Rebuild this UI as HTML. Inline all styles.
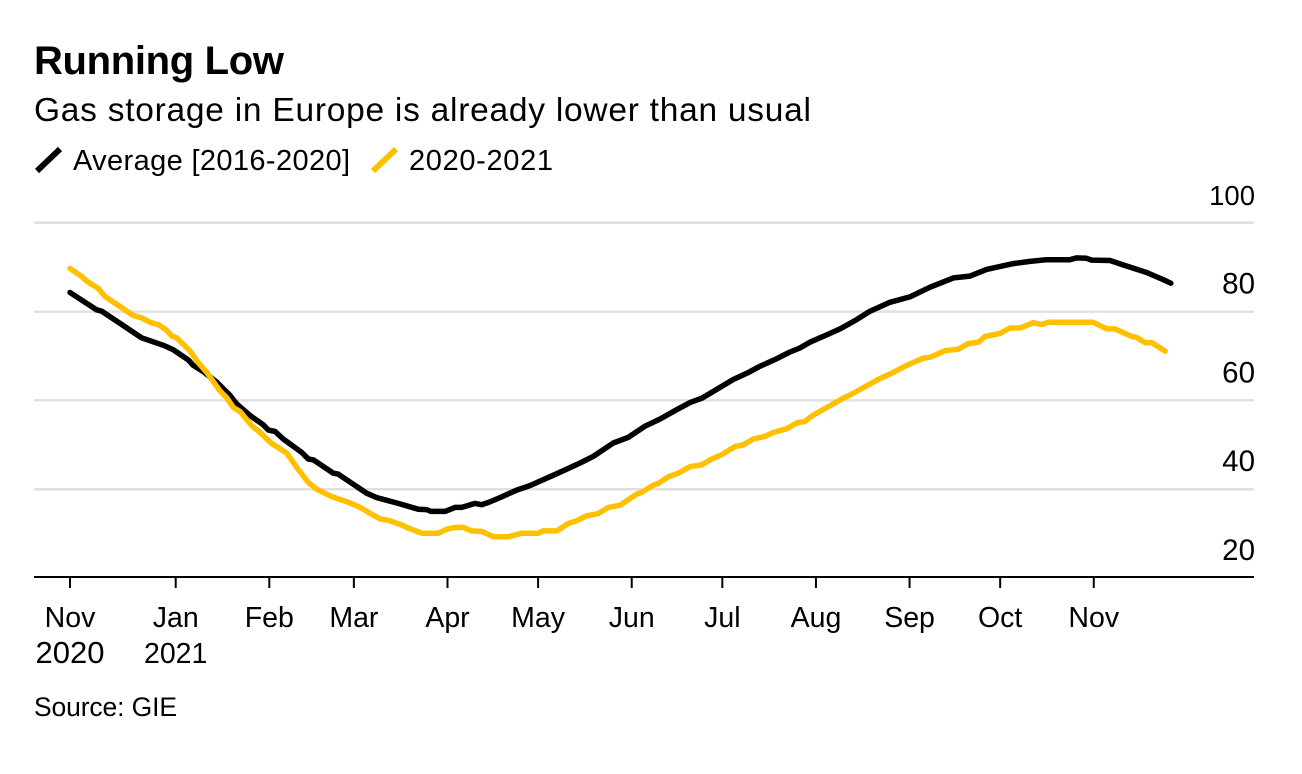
<!DOCTYPE html>
<html lang="en">
<head>
<meta charset="utf-8">
<title>Running Low</title>
<style>
  html, body { margin: 0; padding: 0; background: #fff; }
  svg { display: block; }
  text { font-family: "Liberation Sans", sans-serif; fill: #000; }
</style>
</head>
<body>
<svg id="chart" width="1302" height="774" viewBox="0 0 1302 774" xmlns="http://www.w3.org/2000/svg">
  <rect width="1302" height="774" fill="#fff"/>
  <text x="34" y="74" font-size="40" font-weight="700" textLength="250" lengthAdjust="spacing">Running Low</text>
  <text x="34" y="121" font-size="33.5" textLength="777" lengthAdjust="spacing">Gas storage in Europe is already lower than usual</text>
  <line x1="37" y1="171" x2="60" y2="149" stroke="#000" stroke-width="6"/>
  <text x="73" y="170" font-size="29" textLength="277" lengthAdjust="spacing">Average [2016-2020]</text>
  <line x1="373" y1="171" x2="396" y2="149" stroke="#ffc000" stroke-width="6"/>
  <text x="409" y="170" font-size="29" textLength="144" lengthAdjust="spacing">2020-2021</text>
  <g id="grid"></g>
  <g id="xaxis"></g>
  <g id="yaxis"></g>
  <g id="series"></g>
  <text x="34" y="716" font-size="26.5" textLength="143" lengthAdjust="spacing">Source: GIE</text>
</svg>
<script>
const avgDays = [0,8.8,10.5,23.7,30.9,34.2,39.2,40.8,44.1,48.6,53,55.2,59.6,64,65.7,67.9,70.6,76.7,78.9,80.6,87.2,88.8,98.2,101.6,108.2,115.3,118.1,119.5,124.2,127.5,129.7,134.1,136.3,138.5,142.4,147.9,152.3,161.2,168.9,173.3,179.9,184.9,190.4,195.4,200.9,205.3,209.2,214.7,219.6,224.1,228.5,234,238.4,241.7,245,250,255,260.5,264.9,271.5,278.1,284.8,292.5,298,303.5,312.4,317.9,323.4,331.1,333.3,336.6,338.3,344.4,348.8,356.5,362,364.5];
const avgValues = [84.3,80.4,80.1,74.1,72.4,71.4,69.1,67.9,66.5,64.1,61.1,59.2,56.6,54.5,53.3,53,51.3,48.3,46.8,46.6,43.6,43.4,39.1,38.1,36.9,35.5,35.4,35,35,35.9,35.9,36.8,36.5,37,38.1,39.8,40.8,43.5,45.9,47.4,50.4,51.7,54.2,55.8,57.9,59.5,60.5,62.7,64.7,66.1,67.7,69.4,70.9,71.8,73.1,74.6,76.1,78.2,80.1,82.1,83.3,85.5,87.6,88,89.5,90.8,91.3,91.7,91.7,92.1,92,91.6,91.5,90.5,88.8,87.2,86.4];
const curDays = [0,3.9,5.5,9.4,11.6,13.8,21,23.7,26.5,29.2,32,33.7,35.3,39.7,42.5,45.3,49.7,51.9,54.1,56.3,60.2,62.9,66.8,71.8,75.1,78.9,81.7,86.7,91.6,95.5,102.6,105.4,109.3,111.5,116.5,122,124.7,127.5,130.2,133,136.3,140.2,145.1,146.8,149.6,155.1,156.7,161.2,165,167.8,171.1,174.9,178.2,182.1,187.7,189.3,193.1,194.8,198.1,201.4,205.3,209.2,212.5,215.8,220.2,223,226.3,230.1,232.9,237.3,240.6,243.4,246.1,250.6,255.5,259.9,264.9,268.2,272.6,277.1,282.5,284.8,289.7,294.1,297.4,300.8,303,307.9,311.3,314.6,319,321.7,323.9,338.8,343.3,346,351.6,353.2,356,358.2,362.6];
const curValues = [89.7,87.9,86.9,85.2,83.4,82.4,79.1,78.6,77.6,77.1,75.8,74.5,74.1,71.2,68.5,66.3,62.1,60.6,58.4,57.5,54.3,52.8,50.3,48.1,44.9,41.5,40,38.3,37.2,36.1,33.3,33,32.1,31.4,30.1,30.1,31,31.4,31.4,30.6,30.5,29.3,29.3,29.6,30.1,30.1,30.6,30.6,32.3,32.9,34,34.5,35.9,36.4,38.9,39.3,40.9,41.3,42.8,43.6,45.1,45.5,46.8,47.8,49.6,50,51.3,51.9,52.8,53.6,54.9,55.3,56.7,58.4,60.3,61.8,63.7,64.9,66.3,67.9,69.5,69.7,71.2,71.5,72.8,73.1,74.4,75.1,76.3,76.3,77.5,77.1,77.6,77.6,76.1,76.1,74.4,74.2,73,73,71.1];
const xTickDays = [0,35,66,94,125,155,186,216,247,278,308,339];
const xTickMonths = ["Nov","Jan","Feb","Mar","Apr","May","Jun","Jul","Aug","Sep","Oct","Nov"];
const xTickYears = ["2020","2021","","","","","","","","","",""];
const yTicks = [100,80,60,40,20];

const NS = "http://www.w3.org/2000/svg";
const xScale = d => 70 + d * 3.02;
const yScale = v => 578 - (v - 20) * 4.44;
const LEFT = 34, RIGHT = 1254, BASELINE = 577;

function make(parent, tag, attrs) {
  const el = document.createElementNS(NS, tag);
  for (const k in attrs) el.setAttribute(k, attrs[k]);
  parent.appendChild(el);
  return el;
}

const grid = document.getElementById("grid");
const yaxis = document.getElementById("yaxis");
yTicks.forEach(v => {
  if (v !== 20) {
    const gl = make(grid, "line", {x1: LEFT, x2: RIGHT, y1: yScale(v), y2: yScale(v), stroke: "#e0e0e0", "stroke-width": 2.5});
    
    
  }
  const t = make(yaxis, "text", {x: 1255, y: yScale(v) - 18, "text-anchor": "end", "font-size": String(v).length > 2 ? 27.5 : 29.5});
  
  
  t.textContent = v;
});

const xaxis = document.getElementById("xaxis");
const base = make(xaxis, "line", {x1: LEFT, x2: RIGHT, y1: BASELINE, y2: BASELINE, stroke: "#000", "stroke-width": 2});


xTickDays.forEach((d, i) => {
  const x = xScale(d);
  const tk = make(xaxis, "line", {x1: x, x2: x, y1: BASELINE, y2: 588, stroke: "#000", "stroke-width": 2});
  
  
  const m = make(xaxis, "text", {x: x, y: 627, "text-anchor": "middle", "font-size": 28.5});
  
  
  m.textContent = xTickMonths[i];
  if (xTickYears[i]) {
    const y = make(xaxis, "text", {x: x, y: 663, "text-anchor": "middle", "font-size": i === 0 ? 31 : 28.5});
    
    
    y.textContent = xTickYears[i];
  }
});

const series = document.getElementById("series");
function linePoints(days, values) {
  return days.map((d, i) => xScale(d).toFixed(1) + "," + yScale(values[i]).toFixed(1)).join(" ");
}
const lineAvg = make(series, "polyline", {points: linePoints(avgDays, avgValues), fill: "none", stroke: "#000", "stroke-width": 5.5, "stroke-linejoin": "round", "stroke-linecap": "round"});


const lineCur = make(series, "polyline", {points: linePoints(curDays, curValues), fill: "none", stroke: "#ffc000", "stroke-width": 5.5, "stroke-linejoin": "round", "stroke-linecap": "round"});


</script>
</body>
</html>
